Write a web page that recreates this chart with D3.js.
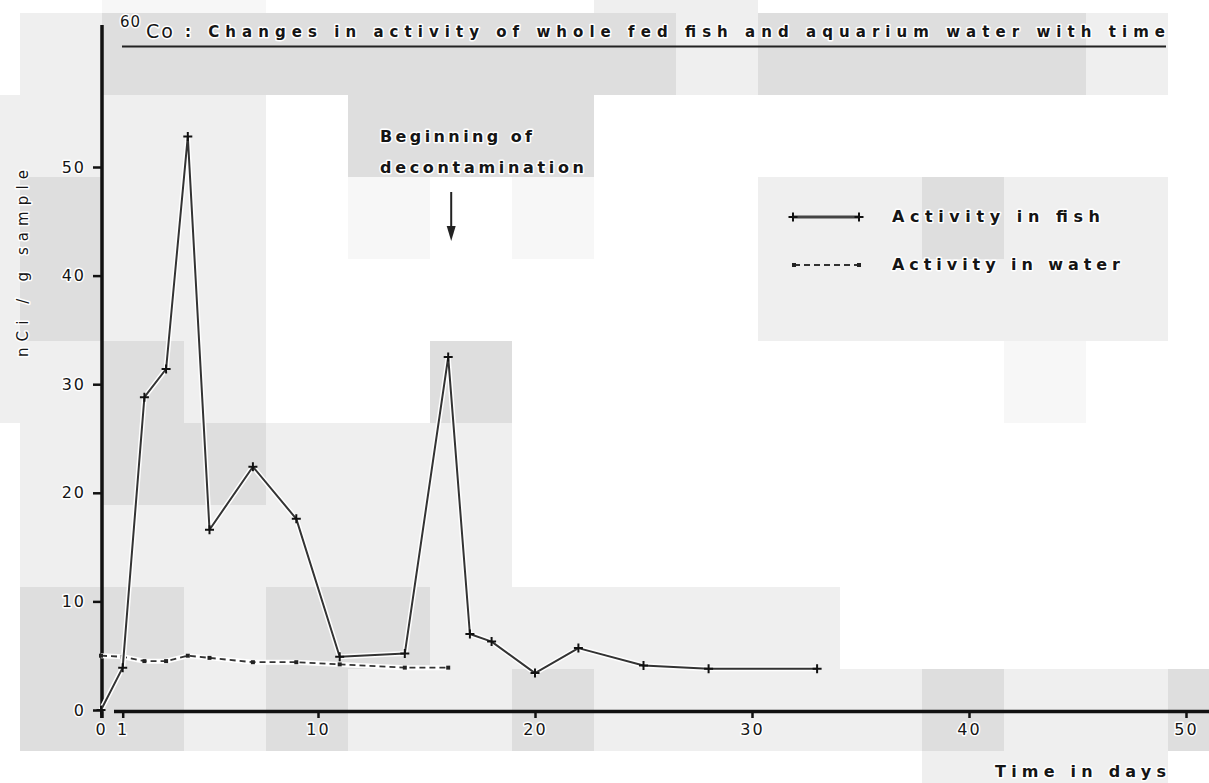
<!DOCTYPE html>
<html>
<head>
<meta charset="utf-8">
<script src="https://cdn.jsdelivr.net/npm/d3@7"></script>
<style>
  html, body { margin: 0; padding: 0; background: #fff; }
  svg { display: block; }
  .lbl { font-family: "DejaVu Sans", sans-serif; fill: #151515; font-weight: bold;
         paint-order: stroke; stroke: #fff; stroke-width: 3px; stroke-linejoin: round; }
  .thin { font-weight: normal; }
</style>
</head>
<body>
<svg id="chart" width="1209" height="783"></svg>
<script>
// ---- data -------------------------------------------------------------
const fishDays   = [0, 1, 2, 3, 4, 5, 7, 9, 11, 14, 16, 17, 18, 20, 22, 25, 28, 33];
const fishValues = [0, 3.9, 28.8, 31.4, 52.8, 16.6, 22.4, 17.6, 4.9, 5.2, 32.5, 7.0, 6.3, 3.4, 5.7, 4.1, 3.8, 3.8];

const waterDays   = [0, 1, 2, 3, 4, 5, 7, 9, 11, 14, 16];
const waterValues = [5.0, 4.9, 4.5, 4.5, 5.0, 4.8, 4.4, 4.4, 4.2, 3.9, 3.9];

const xTicks = [0, 1, 10, 20, 30, 40, 50];
const yTicks = [0, 10, 20, 30, 40, 50];

const decontaminationDay = 16;

// paper tone of the scanned sheet, one character per 82px tile
// (W white, V very light, L light, M mid grey); first row/col start off-sheet
const paperShade = [
  "WWVVWWWWLLWWWWWW",
  "WLMMMMMMMLMMMMLW",
  "LLLLWMMMWWWWWWWW",
  "LMLLWVWVWWLLMLLW",
  "LMLLWWWWWWLLLLLW",
  "LLMLWWMWWWWWWVWW",
  "WLMMLLLWWWWWWWWW",
  "WLLLLLLWWWWWWWWW",
  "WMMLMMLLLLLWWWWW",
  "WMMLMLLMLLLLMLLM",
  "WWWWWWWWWWWWLLLW"
];
const shadeColour = { W: "#ffffff", V: "#f7f7f7", L: "#efefef", M: "#dedede" };

// ---- setup ------------------------------------------------------------
const svg = d3.select("#chart");
const x = d3.scaleLinear().domain([0, 50]).range([101, 1186]);
const y = d3.scaleLinear().domain([0, 50]).range([710, 167]);

// paper tone tiles
const tile = 82, tileX0 = 20 - tile, tileY0 = 13 - tile;
const tiles = [];
paperShade.forEach((row, r) => row.split("").forEach((c, k) => {
  if (c !== "W") tiles.push({ r, k, c });
}));
svg.append("g").selectAll("rect").data(tiles).join("rect")
  .attr("x", d => tileX0 + d.k * tile)
  .attr("y", d => Math.max(0, tileY0 + d.r * tile))
  .attr("width", tile)
  .attr("height", d => tile - Math.max(0, -(tileY0 + d.r * tile)))
  .attr("fill", d => shadeColour[d.c]);

// ---- title ------------------------------------------------------------
const title = svg.append("g");
title.append("text").attr("class", "lbl thin").attr("x", 120).attr("y", 27)
  .style("font-size", "15px").style("letter-spacing", "1px").text("60");
title.append("text").attr("class", "lbl").attr("x", 146).attr("y", 38)
  .style("font-size", "19px").style("font-weight", "normal").style("letter-spacing", "2px").text("Co");
title.append("text").attr("class", "lbl").attr("x", 185).attr("y", 37)
  .style("font-size", "15px")
  .attr("textLength", 980).attr("lengthAdjust", "spacing")
  .text(": Changes in activity of whole fed fish and aquarium water with time");
title.append("line").attr("x1", 122).attr("x2", 1166).attr("y1", 46.5).attr("y2", 46.5)
  .attr("stroke", "#222").attr("stroke-width", 2);

// ---- axes -------------------------------------------------------------
const axisColour = "#111";
const xAxis = svg.append("g").attr("transform", "translate(0,711)")
  .call(d3.axisBottom(x).tickValues(xTicks).tickSize(7).tickPadding(6).tickFormat(d3.format("d")));
xAxis.select(".domain").remove();
xAxis.selectAll(".tick line").attr("stroke", axisColour).attr("stroke-width", 2.5);
xAxis.selectAll(".tick text").attr("class", "lbl thin").attr("fill", null)
  .style("font-size", "16px").style("letter-spacing", "2px");

const yAxis = svg.append("g").attr("transform", "translate(102,0)")
  .call(d3.axisLeft(y).tickValues(yTicks).tickSize(9).tickPadding(7).tickFormat(d3.format("d")));
yAxis.select(".domain").remove();
yAxis.selectAll(".tick line").attr("stroke", axisColour).attr("stroke-width", 2.5);
yAxis.selectAll(".tick text").attr("class", "lbl thin").attr("fill", null)
  .style("font-size", "16px").style("letter-spacing", "2px");

// axis spines: vertical one runs past the origin, horizontal one starts just before day 1
svg.append("line").attr("x1", 102).attr("x2", 102).attr("y1", 25).attr("y2", 718)
  .attr("stroke", axisColour).attr("stroke-width", 3.5);
svg.append("line").attr("x1", 114).attr("x2", 1209).attr("y1", 711.5).attr("y2", 711.5)
  .attr("stroke", axisColour).attr("stroke-width", 3.5);

svg.append("text").attr("class", "lbl").attr("x", 995).attr("y", 777)
  .style("font-size", "16px").attr("textLength", 171).attr("lengthAdjust", "spacing")
  .text("Time in days");
svg.append("text").attr("class", "lbl thin")
  .attr("transform", "translate(28,357) rotate(-90)")
  .style("font-size", "15px").attr("textLength", 187).attr("lengthAdjust", "spacing")
  .text("nCi / g sample");

// ---- series -----------------------------------------------------------
const fish  = fishDays.map((d, i) => ({ d, v: fishValues[i] }));
const water = waterDays.map((d, i) => ({ d, v: waterValues[i] }));
const line = d3.line().x(p => x(p.d)).y(p => y(p.v));
const plus = "M-4.5,0H4.5M0,-4.5V4.5";

// water: dashed with small square dots
svg.append("path").datum(water).attr("d", line).attr("fill", "none")
  .attr("stroke", "#fff").attr("stroke-width", 5);
svg.append("path").datum(water).attr("d", line).attr("fill", "none")
  .attr("stroke", "#333").attr("stroke-width", 1.8).attr("stroke-dasharray", "6 4");
svg.append("g").selectAll("rect").data(water).join("rect")
  .attr("x", p => x(p.d) - 2).attr("y", p => y(p.v) - 2)
  .attr("width", 4).attr("height", 4).attr("fill", "#222");

// fish: solid line with plus markers
svg.append("path").datum(fish).attr("d", line).attr("fill", "none")
  .attr("stroke", "#fff").attr("stroke-width", 5).attr("stroke-linejoin", "round");
svg.append("path").datum(fish).attr("d", line).attr("fill", "none")
  .attr("stroke", "#333").attr("stroke-width", 2).attr("stroke-linejoin", "round");
svg.append("g").selectAll("path").data(fish).join("path")
  .attr("transform", p => `translate(${x(p.d)},${y(p.v)})`)
  .attr("d", plus).attr("stroke", "#111").attr("stroke-width", 2);

// ---- annotation -------------------------------------------------------
const ann = svg.append("g");
ann.append("text").attr("class", "lbl").attr("x", 380).attr("y", 142)
  .style("font-size", "16px").attr("textLength", 152).attr("lengthAdjust", "spacing")
  .text("Beginning of");
ann.append("text").attr("class", "lbl").attr("x", 380).attr("y", 173)
  .style("font-size", "16px").attr("textLength", 204).attr("lengthAdjust", "spacing")
  .text("decontamination");
const ax = x(decontaminationDay) + 3;
ann.append("line").attr("x1", ax).attr("x2", ax).attr("y1", 192).attr("y2", 232)
  .attr("stroke", "#222").attr("stroke-width", 2);
ann.append("path").attr("d", `M${ax - 4.5},226L${ax},241L${ax + 4.5},226Z`).attr("fill", "#222");

// ---- legend -----------------------------------------------------------
const leg = svg.append("g");
leg.append("line").attr("x1", 793).attr("x2", 859).attr("y1", 217).attr("y2", 217)
  .attr("stroke", "#444").attr("stroke-width", 3);
leg.selectAll("path.m").data([793, 859]).join("path").attr("class", "m")
  .attr("transform", d => `translate(${d},217)`).attr("d", plus)
  .attr("stroke", "#111").attr("stroke-width", 2);
leg.append("text").attr("class", "lbl").attr("x", 892).attr("y", 222)
  .style("font-size", "16px").attr("textLength", 208).attr("lengthAdjust", "spacing")
  .text("Activity in fish");

leg.append("line").attr("x1", 794).attr("x2", 859).attr("y1", 265).attr("y2", 265)
  .attr("stroke", "#333").attr("stroke-width", 1.8).attr("stroke-dasharray", "6 4");
leg.selectAll("rect").data([794, 859]).join("rect")
  .attr("x", d => d - 2).attr("y", 263).attr("width", 4).attr("height", 4).attr("fill", "#222");
leg.append("text").attr("class", "lbl").attr("x", 892).attr("y", 270)
  .style("font-size", "16px").attr("textLength", 228).attr("lengthAdjust", "spacing")
  .text("Activity in water");
</script>
</body>
</html>
